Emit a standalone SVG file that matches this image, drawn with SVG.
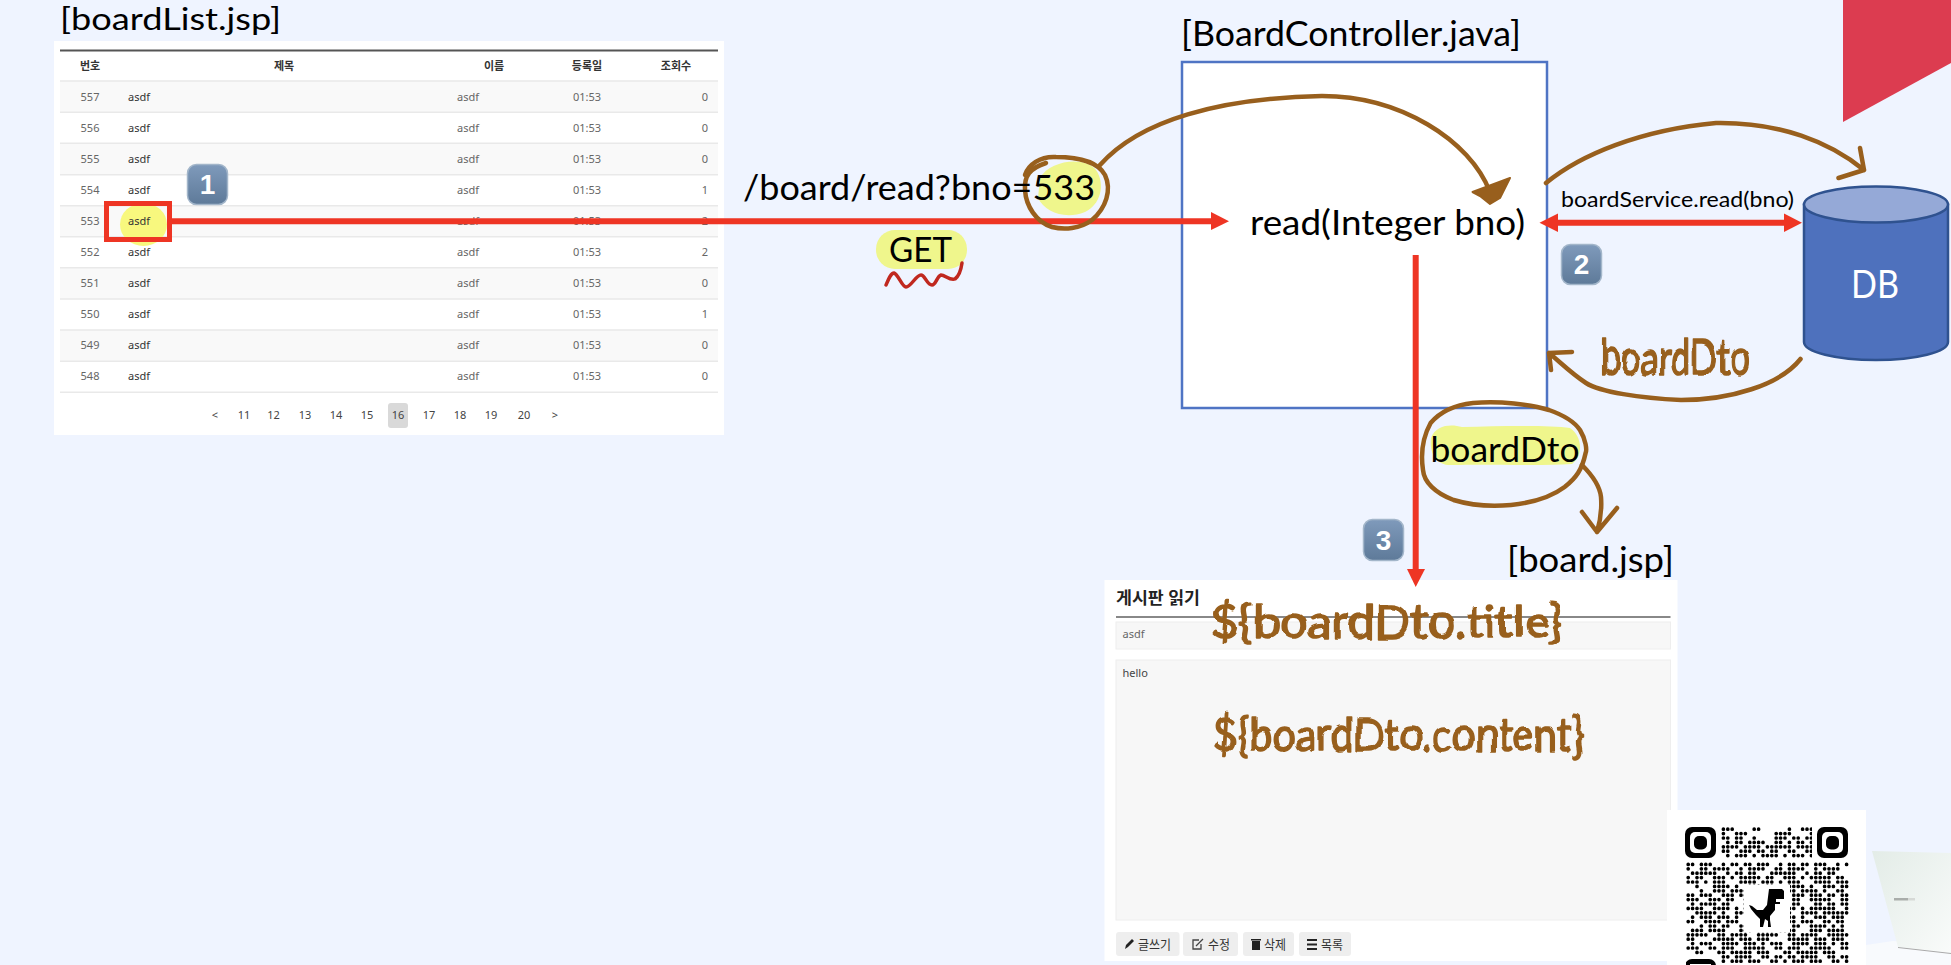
<svg xmlns="http://www.w3.org/2000/svg" width="1951" height="965" viewBox="0 0 1951 965">
<defs>
<style>
text{font-family:"Lato","Noto Sans CJK KR",sans-serif;fill:#000}
.ko{font-family:"Noto Sans","Noto Sans CJK KR",sans-serif}
.big{font-size:35px}
.hd{font-size:11px;font-weight:700;text-anchor:middle;fill:#333;font-family:"Noto Sans","Noto Sans CJK KR",sans-serif}
.c{font-family:"Noto Sans",sans-serif;font-size:11px;fill:#666}
.m{text-anchor:middle}
.e{text-anchor:end}
.t{fill:#333}
.pg{font-family:"Noto Sans",sans-serif;font-size:11px;fill:#444;text-anchor:middle}
.rl{stroke:#e9e9e9;stroke-width:1.5}
.br{fill:none;stroke:#985f1d;stroke-width:4.500;stroke-linecap:round;stroke-linejoin:round}
.hand{fill:#985f1d;stroke:#985f1d;stroke-width:1.600;stroke-linejoin:round;filter:url(#wob)}
.red{fill:none;stroke:#ee3524;stroke-width:6}
.rh{fill:#ee3524}
.hl{fill:#eff68c}
.badge{fill:url(#bg);stroke:#a3b6ca;stroke-width:1.500}
.bt{font-family:"Liberation Sans",sans-serif;font-size:28px;font-weight:700;fill:#fff;text-anchor:middle}
.btn{fill:#eee}
.bl{font-size:13px;fill:#333}
.q{fill:none;stroke:#000;stroke-width:3.700;stroke-linecap:round}
</style>
<linearGradient id="bg" x1="0" y1="0" x2="0" y2="1"><stop offset="0" stop-color="#7f9abb"/><stop offset="1" stop-color="#5e7a99"/></linearGradient>
<linearGradient id="lap" x1="0" y1="0" x2="1" y2="1"><stop offset="0" stop-color="#e3ece7"/><stop offset="1" stop-color="#f9fbfa"/></linearGradient>
<filter id="wob" x="-5%" y="-20%" width="110%" height="140%"><feTurbulence type="fractalNoise" baseFrequency="0.035" numOctaves="2" seed="4"/><feDisplacementMap in="SourceGraphic" scale="6" xChannelSelector="R" yChannelSelector="G"/></filter>
<clipPath id="qc"><rect x="1686" y="827" width="163" height="138"/></clipPath>
</defs>
<rect width="1951" height="965" fill="#eff4ff"/>
<polygon points="1843,0 1951,0 1951,63 1843,122" fill="#dc3c50"/>

<g id="laptop">
<polygon points="1866,945 1893,941 1951,945 1951,965 1866,965" fill="#f8fafd"/>
<polygon points="1872,851 1951,853 1951,953 1898,947" fill="url(#lap)"/>
<path d="M1898 947.500L1951 953.500" stroke="#aaa" stroke-width="1" fill="none"/>
<rect x="1894" y="898" width="14" height="2.500" fill="#a9adaa"/>
<rect x="1908" y="898" width="7" height="2.500" fill="#d6d9d6"/>
</g>

<g id="boardList">
<rect x="54" y="41" width="670" height="394" fill="#fff"/>
<g fill="#f9f9f9">
<rect x="60" y="81" width="658" height="31"/><rect x="60" y="143" width="658" height="31"/><rect x="60" y="206" width="658" height="31"/><rect x="60" y="268" width="658" height="31"/><rect x="60" y="330" width="658" height="31"/>
</g>
<path d="M60 50.500H718" stroke="#555" stroke-width="2"/>
<path class="rl" d="M60 81H718M60 112.300H718M60 143.300H718M60 174.700H718M60 205.700H718M60 236.700H718M60 267.700H718M60 299H718M60 330H718M60 361.300H718M60 392.300H718"/>
<text class="hd" x="90" y="70">번호</text><text class="hd" x="284" y="70">제목</text><text class="hd" x="494" y="70">이름</text><text class="hd" x="587" y="70">등록일</text><text class="hd" x="676" y="70">조회수</text>
<g>
<text class="c m" x="90" y="100.500">557</text><text class="c t" x="128" y="100.500">asdf</text><text class="c" x="457" y="100.500">asdf</text><text class="c m" x="587" y="100.500">01:53</text><text class="c e" x="708" y="100.500">0</text>
<text class="c m" x="90" y="131.500">556</text><text class="c t" x="128" y="131.500">asdf</text><text class="c" x="457" y="131.500">asdf</text><text class="c m" x="587" y="131.500">01:53</text><text class="c e" x="708" y="131.500">0</text>
<text class="c m" x="90" y="162.500">555</text><text class="c t" x="128" y="162.500">asdf</text><text class="c" x="457" y="162.500">asdf</text><text class="c m" x="587" y="162.500">01:53</text><text class="c e" x="708" y="162.500">0</text>
<text class="c m" x="90" y="193.500">554</text><text class="c t" x="128" y="193.500">asdf</text><text class="c" x="457" y="193.500">asdf</text><text class="c m" x="587" y="193.500">01:53</text><text class="c e" x="708" y="193.500">1</text>
<text class="c m" x="90" y="225">553</text><text class="c" x="457" y="225">asdf</text><text class="c m" x="587" y="225">01:53</text><text class="c e" x="708" y="225">2</text>
<text class="c m" x="90" y="256">552</text><text class="c t" x="128" y="256">asdf</text><text class="c" x="457" y="256">asdf</text><text class="c m" x="587" y="256">01:53</text><text class="c e" x="708" y="256">2</text>
<text class="c m" x="90" y="287">551</text><text class="c t" x="128" y="287">asdf</text><text class="c" x="457" y="287">asdf</text><text class="c m" x="587" y="287">01:53</text><text class="c e" x="708" y="287">0</text>
<text class="c m" x="90" y="318">550</text><text class="c t" x="128" y="318">asdf</text><text class="c" x="457" y="318">asdf</text><text class="c m" x="587" y="318">01:53</text><text class="c e" x="708" y="318">1</text>
<text class="c m" x="90" y="349">549</text><text class="c t" x="128" y="349">asdf</text><text class="c" x="457" y="349">asdf</text><text class="c m" x="587" y="349">01:53</text><text class="c e" x="708" y="349">0</text>
<text class="c m" x="90" y="380">548</text><text class="c t" x="128" y="380">asdf</text><text class="c" x="457" y="380">asdf</text><text class="c m" x="587" y="380">01:53</text><text class="c e" x="708" y="380">0</text>
</g>
<ellipse cx="143.500" cy="224.500" rx="23.500" ry="21.500" fill="#f8f87e"/>
<text class="c t" x="128" y="225">asdf</text>
<rect x="388" y="403" width="20" height="25" rx="3" fill="#d9d9d9"/>
<text class="pg" x="215" y="419">&lt;</text><text class="pg" x="244" y="419">11</text><text class="pg" x="273.500" y="419">12</text><text class="pg" x="305" y="419">13</text><text class="pg" x="336" y="419">14</text><text class="pg" x="367" y="419">15</text><text class="pg" x="398" y="419">16</text><text class="pg" x="429" y="419">17</text><text class="pg" x="460" y="419">18</text><text class="pg" x="491" y="419">19</text><text class="pg" x="524" y="419">20</text><text class="pg" x="555" y="419">&gt;</text>
<rect x="106.500" y="203.500" width="63" height="36" fill="none" stroke="#ee3524" stroke-width="5"/>
</g>
<text x="60" y="30" font-size="30" textLength="221" lengthAdjust="spacingAndGlyphs">[boardList.jsp]</text>

<g id="boardController">
<rect x="1182" y="62" width="365" height="346" fill="#fff" stroke="#4f74c4" stroke-width="2.500"/>
<text class="big" x="1181" y="46" textLength="340" lengthAdjust="spacingAndGlyphs">[BoardController.java]</text>
<text class="big" x="1250" y="235" textLength="275" lengthAdjust="spacingAndGlyphs">read(Integer bno)</text>
</g>

<g id="db">
<path d="M1804 204.500V342A72 18 0 0 0 1948 342V204.500Z" fill="#4e71bd" stroke="#2f528f" stroke-width="2.500"/>
<ellipse cx="1876" cy="204.500" rx="72" ry="18" fill="#95a9d7" stroke="#2f528f" stroke-width="2.500"/>
<text x="1875" y="298" font-size="38" style="fill:#fff" text-anchor="middle" textLength="48" lengthAdjust="spacingAndGlyphs">DB</text>
</g>

<g id="boardPage">
<rect x="1104.500" y="580" width="573" height="381" fill="#fff"/>
<text class="ko" x="1116" y="604" font-size="17" font-weight="700" style="fill:#222" textLength="84" lengthAdjust="spacingAndGlyphs">게시판 읽기</text>
<path d="M1116 617H1670.500" stroke="#888" stroke-width="2"/>
<rect x="1116" y="622" width="554.500" height="27" fill="#f7f7f7" stroke="#eee"/>
<text class="c" x="1122.500" y="638">asdf</text>
<rect x="1116" y="660" width="554.500" height="260" fill="#f7f7f7" stroke="#eee"/>
<text class="c" x="1122.500" y="677" style="fill:#444">hello</text>
<rect class="btn" x="1116" y="932" width="63.500" height="24" rx="3"/>
<rect class="btn" x="1183" y="932" width="55" height="24" rx="3"/>
<rect class="btn" x="1243" y="932" width="51" height="24" rx="3"/>
<rect class="btn" x="1299" y="932" width="52" height="24" rx="3"/>
<path d="M1125 949l1-4 6-6 2 2-6 6z" fill="#222"/>
<path d="M1199 940h-6v9h8v-5M1196 946l7-7" fill="none" stroke="#444" stroke-width="1.300"/>
<path d="M1252 941h8v9h-8zM1251 939h10v1.500h-10z" fill="#222"/>
<path d="M1307 939h10v2h-10zM1307 943.500h10v2h-10zM1307 948h10v2h-10z" fill="#222"/>
<text class="ko bl" x="1138" y="949" textLength="33" lengthAdjust="spacingAndGlyphs">글쓰기</text>
<text class="ko bl" x="1208" y="949" textLength="22" lengthAdjust="spacingAndGlyphs">수정</text>
<text class="ko bl" x="1264" y="949" textLength="22" lengthAdjust="spacingAndGlyphs">삭제</text>
<text class="ko bl" x="1321" y="949" textLength="22" lengthAdjust="spacingAndGlyphs">목록</text>
<text class="hand" x="1211" y="638" font-size="46" textLength="352" lengthAdjust="spacingAndGlyphs">${boardDto.title}</text>
<text class="hand" x="1213" y="751" font-size="46" textLength="371" lengthAdjust="spacingAndGlyphs">${boardDto.content}</text>
</g>
<text class="big" x="1507" y="572" textLength="167" lengthAdjust="spacingAndGlyphs">[board.jsp]</text>

<g id="highlights">
<path class="hl" d="M1040 178C1050 160 1085 156 1096 170C1106 185 1100 205 1085 212C1065 220 1045 212 1038 198Z"/>
<rect class="hl" x="876" y="230" width="91" height="39" rx="19"/>
<path class="hl" d="M1431 438C1436 424 1452 424 1462 427C1500 426 1550 425 1570 428C1582 436 1584 455 1572 464C1540 466 1490 464 1452 465C1436 466 1429 452 1431 438Z"/>
</g>

<g id="connectors">
<path class="red" d="M172 221.300H1213"/>
<polygon class="rh" points="1229,221.300 1211,212 1211,230"/>
<path class="red" d="M1558 222.700H1784"/>
<polygon class="rh" points="1539.500,222.700 1558,213.500 1558,232"/>
<polygon class="rh" points="1802,222.700 1784,213.500 1784,232"/>
<path class="red" d="M1415.700 255V571"/>
<polygon class="rh" points="1415.700,587 1407,569 1425,569"/>
<path class="br" d="M1025 175C1028 165 1040 156 1056 157C1078 157 1098 162 1105 175C1112 190 1106 208 1092 220C1080 229 1064 230 1052 227C1036 222 1026 206 1025 190C1024 176 1030 168 1046 163"/>
<path class="br" d="M1100 165C1140 120 1220 98 1322 96C1400 96 1470 140 1490 192"/>
<path d="M1510 178L1472.500 192L1480 196L1490 204L1500 198Z" fill="#985f1d" stroke="#985f1d" stroke-width="2" stroke-linejoin="round"/>
<path class="br" d="M1546 183C1580 155 1640 130 1716 123C1780 122 1830 142 1864 170M1860 148L1864 170L1838.500 178"/>
<path class="br" d="M1800.500 359C1780 385 1730 400 1681 400C1640 398 1600 392 1586 383C1572 374 1560 362 1549 353M1572 352L1549 353L1551 370"/>
<path class="br" d="M1473 403C1500 401 1530 404 1549 410C1566 416 1576 424 1580 430C1586 440 1587 450 1585.600 453C1582 470 1576 478 1564.600 487C1550 498 1530 503 1511 505C1490 507 1470 505 1453.600 500C1435 493 1424 482 1423 470C1420 450 1424 435 1430.600 423C1440 412 1455 405 1473 403Z"/>
<path class="br" d="M1582 465C1592 475 1600 487 1601 497C1602 510 1600 522 1597 532M1582 512L1597 532L1617 508"/>
<path d="M886 285C889 278 891 273 894 273C898 274 902 287 906 287C911 287 916 275 921 275C925 275 927 285 932 285C936 285 937 276 941 275C945 275 950 281 955 279C959 276 961 270 962 263" fill="none" stroke="#c0281f" stroke-width="3.500" stroke-linecap="round"/>
</g>

<g id="labels">
<text class="big" x="743" y="200" textLength="352" lengthAdjust="spacingAndGlyphs">/board/read?bno=533</text>
<text class="big" x="889" y="262" textLength="63" lengthAdjust="spacingAndGlyphs">GET</text>
<text x="1561" y="207" font-size="22" textLength="233" lengthAdjust="spacingAndGlyphs">boardService.read(bno)</text>
<text class="big" x="1430.500" y="462" textLength="149" lengthAdjust="spacingAndGlyphs">boardDto</text>
<text class="hand" x="1600" y="375" font-size="50" textLength="150" lengthAdjust="spacingAndGlyphs">boardDto</text>
</g>

<g id="badge1"><rect class="badge" x="187.500" y="164.500" width="40" height="40" rx="9"/><text class="bt" x="207.500" y="194">1</text></g>
<g id="badge2"><rect class="badge" x="1561.500" y="244.500" width="40" height="40" rx="9"/><text class="bt" x="1581.500" y="274">2</text></g>
<g id="badge3"><rect class="badge" x="1363.500" y="519.500" width="40" height="41" rx="9"/><text class="bt" x="1383.500" y="550">3</text></g>

<g id="qr">
<rect x="1667" y="810" width="199" height="155" fill="#fff"/>
<g clip-path="url(#qc)">
<g class="q">
<path pathLength="37" stroke-dasharray="0 1 0 1 0 5 0 1 0 7 0 3" d="M1723.400 829.200h162.800"/>
<path pathLength="37" stroke-dasharray="0 3 0 1 0 1 0 7 0 1 0 1 0 1 0 5" d="M1723.400 833.600h162.800"/>
<path pathLength="37" stroke-dasharray="0 1 0 2 0 1 0 3 0 5 0 1 0 1 0 2" d="M1723.400 838h162.800"/>
<path pathLength="37" stroke-dasharray="0 2 0 1 0 2 0 1 0 1 0 1 0 3 0 1 0 2" d="M1727.800 842.400h162.800"/>
<path pathLength="37" stroke-dasharray="0 1 0 1 0 1 0 2 0 1 0 1 0 1 0 2 0 1 0 1" d="M1723.400 846.800h162.800"/>
<path pathLength="37" stroke-dasharray="0 1 0 3 0 1 0 1 0 2 0 1 0 2 0 1 0 3" d="M1723.400 851.200h162.800"/>
<path pathLength="37" stroke-dasharray="0 2 0 1 0 1 0 2 0 2 0 1 0 1 0 1 0 2" d="M1727.800 855.600h162.800"/>
<path pathLength="37" stroke-dasharray="0 1 0 2 0 1 0 1 0 3 0 2 0 1 0 2" d="M1688.200 864.400h162.800"/>
<path pathLength="37" stroke-dasharray="0 3 0 1 0 2 0 1 0 1 0 1 0 3 0 2 0 1 0 1 0 1" d="M1688.200 868.800h162.800"/>
<path pathLength="37" stroke-dasharray="0 1 0 1 0 1 0 1 0 1 0 3 0 2 0 1 0 2 0 1 0 4" d="M1692.600 873.200h162.800"/>
<path pathLength="37" stroke-dasharray="0 2 0 1 0 3 0 1 0 1 0 2 0 2 0 1 0 1 0 1 0 1" d="M1688.200 877.600h162.800"/>
<path pathLength="37" stroke-dasharray="0 1 0 1 0 2 0 2 0 1 0 1 0 4 0 1 0 1 0 1 0 2" d="M1688.200 882h162.800"/>
<path pathLength="37" stroke-dasharray="0 4 0 1 0 1 0 1 0 2 0 3 0 1 0 1 0 2 0 1" d="M1697 886.400h162.800"/>
<path pathLength="37" stroke-dasharray="0 3 0 1 0 1 0 2 0 1 0 1 0 1 0 2 0 3 0 1" d="M1701.400 890.800h162.800"/>
<path pathLength="37" stroke-dasharray="0 1 0 2 0 1 0 1 0 3 0 1 0 1 0 2 0 1 0 1 0 2" d="M1688.200 895.200h162.800"/>
<path pathLength="37" stroke-dasharray="0 1 0 1 0 3 0 1 0 1 0 2 0 1 0 3 0 1 0 1" d="M1688.200 899.600h162.800"/>
<path pathLength="37" stroke-dasharray="0 2 0 1 0 1 0 1 0 2 0 1 0 4 0 1 0 2 0 1" d="M1692.600 904h162.800"/>
<path pathLength="37" stroke-dasharray="0 1 0 1 0 1 0 3 0 1 0 1 0 1 0 2 0 2 0 1 0 1" d="M1688.200 908.400h162.800"/>
<path pathLength="37" stroke-dasharray="0 1 0 1 0 1 0 1 0 2 0 3 0 1 0 1 0 1 0 2 0 1" d="M1697 912.800h162.800"/>
<path pathLength="37" stroke-dasharray="0 2 0 1 0 1 0 2 0 1 0 1 0 2 0 3 0 1 0 1" d="M1692.600 917.200h162.800"/>
<path pathLength="37" stroke-dasharray="0 1 0 3 0 1 0 1 0 1 0 2 0 1 0 1 0 3 0 1 0 2" d="M1688.200 921.600h162.800"/>
<path pathLength="37" stroke-dasharray="0 2 0 1 0 2 0 1 0 3 0 1 0 1 0 1 0 2 0 2" d="M1701.400 926h162.800"/>
<path pathLength="37" stroke-dasharray="0 1 0 1 0 2 0 1 0 1 0 1 0 4 0 1 0 1 0 2 0 1" d="M1692.600 930.400h162.800"/>
<path pathLength="37" stroke-dasharray="0 1 0 1 0 1 0 1 0 3 0 1 0 2 0 1 0 1 0 1 0 3" d="M1688.200 934.800h162.800"/>
<path pathLength="37" stroke-dasharray="0 1 0 5 0 1 0 1 0 1 0 1 0 2 0 1 0 1 0 2 0 1" d="M1688.200 939.200h162.800"/>
<path pathLength="37" stroke-dasharray="0 2 0 1 0 1 0 3 0 1 0 1 0 1 0 2 0 1 0 1 0 2" d="M1692.600 943.600h162.800"/>
<path pathLength="37" stroke-dasharray="0 1 0 1 0 3 0 1 0 2 0 1 0 1 0 3 0 1 0 1" d="M1688.200 948h162.800"/>
<path pathLength="37" stroke-dasharray="0 1 0 4 0 1 0 2 0 1 0 1 0 1 0 1 0 2 0 1" d="M1697 952.400h162.800"/>
<path pathLength="37" stroke-dasharray="0 1 0 2 0 1 0 1 0 1 0 3 0 1 0 2 0 1 0 2" d="M1723.400 956.800h162.800"/>
<path pathLength="37" stroke-dasharray="0 2 0 1 0 1 0 2 0 1 0 1 0 3 0 1 0 2" d="M1723.400 961.200h162.800"/>
</g>
</g>
<rect x="1744" y="885" width="46" height="47" fill="#fff"/>
<rect x="1812" y="825" width="38" height="36" fill="#fff"/>
<g clip-path="url(#qc)">
<rect x="1685" y="959" width="31" height="20" rx="7" fill="#000"/>
<rect x="1690" y="964" width="21" height="10" fill="#fff"/>
</g>
<rect x="1685" y="827" width="31" height="31" rx="7" fill="#000"/>
<rect x="1690" y="832" width="21" height="21" rx="5" fill="#fff"/>
<rect x="1694" y="836" width="13" height="13.500" rx="5" fill="#000"/>
<rect x="1817" y="827" width="31" height="31" rx="7" fill="#000"/>
<rect x="1822" y="832" width="21" height="21" rx="5" fill="#fff"/>
<rect x="1826" y="836" width="13" height="13.500" rx="5" fill="#000"/>
<path d="M1769 889H1782L1784 891V899H1776V902H1780V904H1775V910L1770 916V920L1771 927H1768V921L1765 919L1763 927H1760V919L1756 915L1751 909L1749 905L1752 906L1757 910H1763L1767 905Z" fill="#000"/>
</g>
</svg>
